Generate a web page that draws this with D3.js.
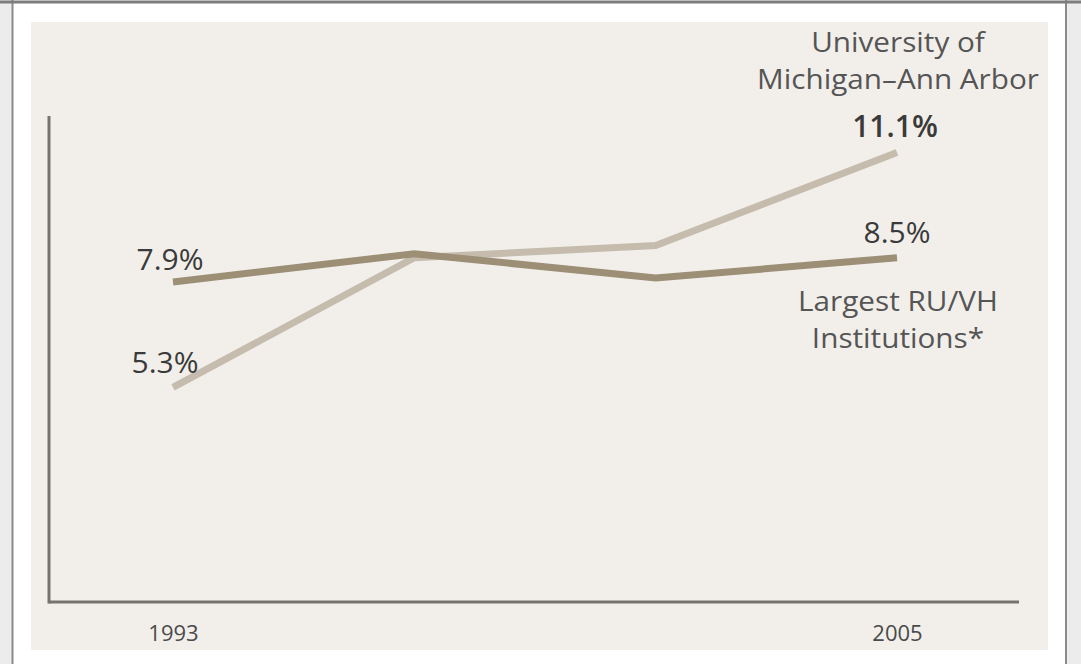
<!DOCTYPE html>
<html>
<head>
<meta charset="utf-8">
<script src="https://cdnjs.cloudflare.com/ajax/libs/d3/7.8.5/d3.min.js"></script>
<style>
  html, body { margin: 0; padding: 0; background: #ffffff; }
  svg { display: block; font-family: "Open Sans", Lato, sans-serif; }
</style>
</head>
<body>
<div id="output"></div>
<script>
// data
var years = [1993, 1997, 2001, 2005];
var michigan = [5.3, 8.5, 8.8, 11.1];
var ruvh = [7.9, 8.6, 8.0, 8.5];
var yearLabels = [1993, 2005];
var michiganName = ["University of", "Michigan\u2013Ann Arbor"];
var ruvhName = ["Largest RU/VH", "Institutions*"];

var W = 1081, H = 664;

var svg = d3.select("#output").append("svg")
  .attr("width", W)
  .attr("height", H);

// frame around the figure
svg.append("rect").attr("x", 0).attr("y", 0).attr("width", 12).attr("height", H).attr("fill", "#ececec");
svg.append("rect").attr("x", 1067).attr("y", 0).attr("width", 14).attr("height", H).attr("fill", "#ececec");
svg.append("line").attr("x1", 12.5).attr("x2", 12.5).attr("y1", 0).attr("y2", H)
  .attr("stroke", "#8a8a8a").attr("stroke-width", 2);
svg.append("line").attr("x1", 1066).attr("x2", 1066).attr("y1", 0).attr("y2", H)
  .attr("stroke", "#8a8a8a").attr("stroke-width", 2);
svg.append("line").attr("x1", 0).attr("x2", W).attr("y1", 2).attr("y2", 2)
  .attr("stroke", "#7d7d7d").attr("stroke-width", 3);

// beige panel
svg.append("rect")
  .attr("x", 31).attr("y", 22)
  .attr("width", 1017).attr("height", 628)
  .attr("fill", "#f2efea");

var x = d3.scaleLinear().domain([1993, 2005]).range([173, 897]);
var y = d3.scaleLinear().domain([0, 12]).range([602, 116]);

// axes
svg.append("line")
  .attr("x1", 49).attr("x2", 49).attr("y1", y(12)).attr("y2", y(0) + 1.5)
  .attr("stroke", "#767270").attr("stroke-width", 3);
svg.append("line")
  .attr("x1", 49).attr("x2", 1019).attr("y1", y(0)).attr("y2", y(0))
  .attr("stroke", "#767270").attr("stroke-width", 3);

var xAxis = d3.axisBottom(x)
  .tickValues(yearLabels)
  .tickSize(0)
  .tickPadding(23)
  .tickFormat(d3.format("d"));

var gx = svg.append("g")
  .attr("transform", "translate(0," + y(0) + ")")
  .call(xAxis);
gx.select(".domain").remove();
gx.selectAll("text")
  .attr("font-family", "'Open Sans', sans-serif")
  .attr("font-size", 22)
  .attr("fill", "#4a4a4a");

var line = d3.line()
  .x(function (d, i) { return x(years[i]); })
  .y(function (d) { return y(d); });

svg.append("path")
  .datum(michigan)
  .attr("d", line)
  .attr("fill", "none")
  .attr("stroke", "#c5bcad")
  .attr("stroke-width", 7);

svg.append("path")
  .datum(ruvh)
  .attr("d", line)
  .attr("fill", "none")
  .attr("stroke", "#9c8f76")
  .attr("stroke-width", 7);

function label(txt, cx, cy, opts) {
  opts = opts || {};
  var t = svg.append("text")
    .text(txt)
    .attr("x", cx)
    .attr("y", cy)
    .attr("text-anchor", "middle")
    .attr("font-size", opts.size || 30)
    .attr("font-weight", opts.weight || 400)
    .attr("fill", opts.fill || "#3a3a3a");
  // stretch a bit wider, the original face is a wide geometric sans
  if (opts.stretch) {
    var w = t.node().getComputedTextLength();
    t.attr("textLength", w * opts.stretch).attr("lengthAdjust", "spacingAndGlyphs");
  }
}

var last = years.length - 1;
var fmt = function (v) { return v.toFixed(1) + "%"; };

// value labels
label(fmt(ruvh[0]), x(years[0]) - 3, y(ruvh[0]) - 12);
label(fmt(michigan[0]), x(years[0]) - 8, y(michigan[0]) - 14);
label(fmt(michigan[last]), x(years[last]) - 2, y(michigan[last]) - 15, {weight: 600});
label(fmt(ruvh[last]), x(years[last]), y(ruvh[last]) - 15);

// series names, two lines each
michiganName.forEach(function (s, i) {
  label(s, 898, 52 + i * 37, {fill: "#555555", size: 27, stretch: 1.1});
});
ruvhName.forEach(function (s, i) {
  label(s, 898, 311 + i * 37, {fill: "#555555", size: 27, stretch: 1.1});
});
</script>
</body>
</html>
